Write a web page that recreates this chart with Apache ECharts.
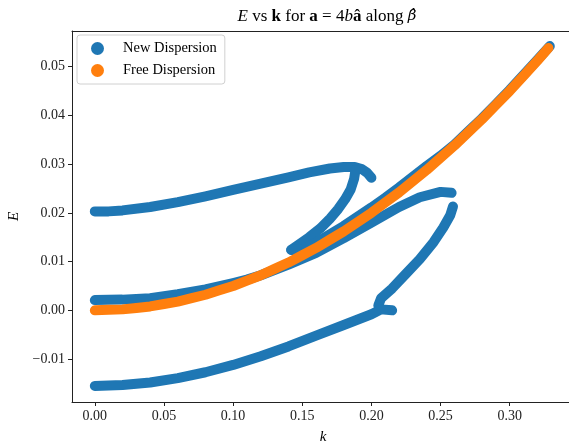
<!DOCTYPE html>
<html>
<head>
<meta charset="utf-8">
<script src="https://cdn.jsdelivr.net/npm/echarts@6/dist/echarts.min.js"></script>
<style>html,body{margin:0;padding:0;background:#fff}#c{width:569px;height:444px}</style>
</head>
<body>
<div id="c"></div>
<script>
// ---- data: [k, E] ----
var newTop = [[0,0.0203],[0.01,0.0203],[0.02,0.0205],[0.04,0.0212],[0.06,0.0222],[0.08,0.0234],[0.10,0.0247],[0.12,0.0260],[0.14,0.0273],[0.155,0.0283],[0.17,0.0291],[0.18,0.0294],[0.188,0.0294],[0.193,0.0290],[0.197,0.0282],[0.200,0.0272]];
var newArm = [[0.1885,0.0288],[0.1875,0.0270],[0.185,0.0248],[0.181,0.0228],[0.176,0.0208],[0.170,0.0188],[0.163,0.0168],[0.155,0.0150],[0.148,0.0136],[0.142,0.0124]];
var newAlongFree = [[0.142,0.0124],[0.15,0.0125],[0.16,0.0139],[0.17,0.0156],[0.18,0.0173],[0.19,0.0192],[0.20,0.0211],[0.21,0.0231],[0.22,0.0252],[0.23,0.0274],[0.24,0.0296],[0.25,0.0317],[0.26,0.0340],[0.27,0.0367],[0.28,0.0394],[0.29,0.0423],[0.30,0.0452],[0.31,0.0483],[0.32,0.0514],[0.329,0.0542]];
var newMid = [[0,0.0021],[0.02,0.0022],[0.04,0.0025],[0.06,0.0033],[0.08,0.0043],[0.10,0.0056],[0.11,0.0063],[0.12,0.0072],[0.14,0.0094],[0.16,0.0118],[0.18,0.0148],[0.20,0.0180],[0.22,0.0212],[0.235,0.0232],[0.25,0.0243],[0.258,0.0241]];
var newRise = [[0.205,0.0010],[0.207,0.0025],[0.215,0.0045],[0.225,0.0075],[0.235,0.0105],[0.245,0.0140],[0.252,0.0170],[0.257,0.0195],[0.259,0.0213]];
var newBottom = [[0,-0.0155],[0.02,-0.0153],[0.04,-0.0148],[0.06,-0.0139],[0.08,-0.0127],[0.10,-0.0112],[0.12,-0.0094],[0.14,-0.0074],[0.16,-0.0052],[0.18,-0.0030],[0.20,-0.0008],[0.207,0.0002],[0.215,0.0000]];
var freeDisp = [[0,0.0000],[0.01,0.0001],[0.02,0.0002],[0.03,0.0005],[0.04,0.0008],[0.05,0.0013],[0.06,0.0018],[0.07,0.0025],[0.08,0.0032],[0.09,0.0041],[0.10,0.0050],[0.11,0.0061],[0.12,0.0072],[0.13,0.0085],[0.14,0.0098],[0.15,0.0113],[0.16,0.0128],[0.17,0.0145],[0.18,0.0162],[0.19,0.0181],[0.20,0.0200],[0.21,0.0221],[0.22,0.0242],[0.23,0.0265],[0.24,0.0288],[0.25,0.0313],[0.26,0.0338],[0.27,0.0365],[0.28,0.0392],[0.29,0.0421],[0.30,0.0450],[0.31,0.0481],[0.32,0.0512],[0.328,0.0538]];
var xTicks = [0,0.05,0.10,0.15,0.20,0.25,0.30];
var yTicks = [-0.01,0,0.01,0.02,0.03,0.04,0.05];

var BLUE = '#1f77b4', ORANGE = '#ff7f0e';
var FONT = 'Liberation Serif';
function fmt(v){ return v.toFixed(2).replace('-', '\u2212'); }
function branch(name, data, color){
  return {
    name: name, type: 'line', data: data, color: color,
    showSymbol: false, symbol: 'circle', symbolSize: 10,
    lineStyle: {width: 10, cap: 'round', join: 'round', color: color},
    itemStyle: {color: color},
    animation: false, silent: true, clip: true
  };
}
var series = [
  branch('New Dispersion', newTop, BLUE),
  branch('New Dispersion', newArm, BLUE),
  branch('New Dispersion', newAlongFree, BLUE),
  branch('New Dispersion', newMid, BLUE),
  branch('New Dispersion', newRise, BLUE),
  branch('New Dispersion', newBottom, BLUE),
  branch('Free Dispersion', freeDisp, ORANGE)
];
var chart = echarts.init(document.getElementById('c'), null, {renderer: 'canvas'});
chart.setOption({
  animation: false,
  backgroundColor: '#fff',
  title: {
    text: '{i|E} vs {b|k} for {b|a} = 4{i|b}{b|\u00e2} along {g|\u03b2\u0302}',
    left: 322, top: 3, textAlign: 'center',
    textStyle: {
      fontFamily: FONT, fontSize: 17, fontWeight: 'normal', color: '#000',
      rich: {
        i: {fontFamily: FONT, fontSize: 17, fontStyle: 'italic', color: '#000'},
        b: {fontFamily: FONT, fontSize: 17, fontWeight: 'bold', color: '#000'},
        g: {fontFamily: 'DejaVu Serif', fontSize: 15, fontStyle: 'italic', color: '#000'}
      }
    }
  },
  legend: {
    data: ['New Dispersion', 'Free Dispersion'],
    orient: 'vertical', left: 77, top: 35,
    icon: 'circle', itemWidth: 13, itemHeight: 13, itemGap: 7,
    padding: [6, 8, 6, 14],
    backgroundColor: '#fff', borderColor: '#d0d0d0', borderWidth: 1, borderRadius: 3,
    textStyle: {fontFamily: FONT, fontSize: 14.5, color: '#000', padding: [0,0,0,14]},
    selectedMode: false
  },
  grid: {left: 72, right: -5, top: 31, bottom: 42, show: false, outerBoundsMode: 'none', containLabel: false},
  xAxis: [{
    type: 'value', min: -0.0165, max: 0.3465,
    name: 'k', nameLocation: 'middle', nameGap: 28,
    nameTextStyle: {fontFamily: FONT, fontSize: 15, fontStyle: 'italic', color: '#000'},
    axisLine: {show: true, onZero: false, lineStyle: {color: '#222'}},
    axisTick: {show: true, length: 4, customValues: xTicks, lineStyle: {color: '#222'}},
    axisLabel: {customValues: xTicks, formatter: fmt, fontFamily: FONT, fontSize: 14, color: '#222', margin: 7},
    splitLine: {show: false}
  }, {
    type: 'value', position: 'top', min: -0.0165, max: 0.3465,
    axisLine: {show: true, onZero: false, lineStyle: {color: '#222'}},
    axisTick: {show: false}, axisLabel: {show: false}, splitLine: {show: false}
  }],
  yAxis: {
    type: 'value', min: -0.0188, max: 0.0573,
    name: 'E', nameLocation: 'middle', nameGap: 50,
    nameTextStyle: {fontFamily: FONT, fontSize: 15, fontStyle: 'italic', color: '#000'},
    axisLine: {show: true, onZero: false, lineStyle: {color: '#222'}},
    axisTick: {show: true, length: 4, customValues: yTicks, lineStyle: {color: '#222'}},
    axisLabel: {customValues: yTicks, formatter: fmt, fontFamily: FONT, fontSize: 14, color: '#222', margin: 7},
    splitLine: {show: false}
  },
  series: series
});
</script>
</body>
</html>
